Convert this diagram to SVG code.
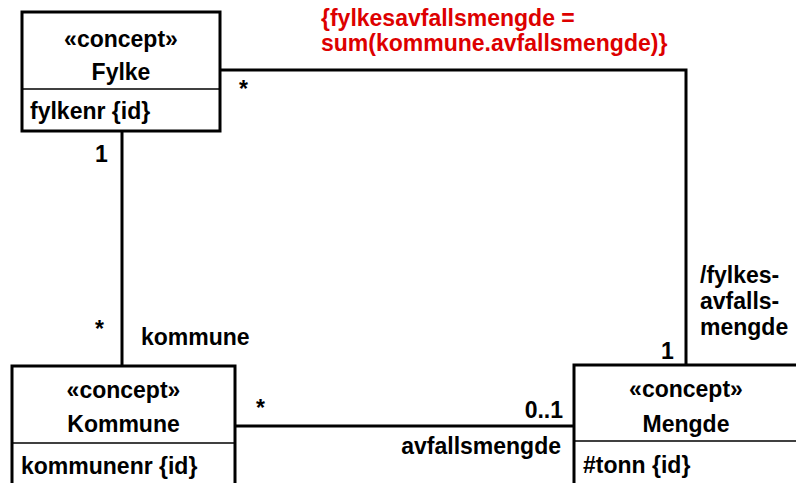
<svg xmlns="http://www.w3.org/2000/svg" width="796" height="483" viewBox="0 0 796 483">
  <style>
    .box { fill: #ffffff; stroke: #000000; stroke-width: 3; }
    .div { stroke: #000000; stroke-width: 1.5; }
    .conn { fill: none; stroke: #000000; stroke-width: 3; }
    text { font-family: "Liberation Sans", Arial, sans-serif; font-weight: bold; font-size: 23px; fill: #000000; }
    .c { text-anchor: middle; }
    .r { text-anchor: end; }
    .note { fill: #dd0000; }
  </style>
  <rect width="796" height="483" fill="#ffffff"/>

  <!-- associations -->
  <g id="connectors">
    <polyline class="conn" points="220,70 686,70 686,366"/>
    <line class="conn" x1="122" y1="131" x2="122" y2="366"/>
    <line class="conn" x1="235" y1="426" x2="574" y2="426"/>
  </g>

  <g id="Fylke">
    <rect class="box" x="22" y="12" width="198" height="119"/>
    <line class="div" x1="22" y1="89" x2="220" y2="89"/>
    <text class="c" x="121" y="47">«concept»</text>
    <text class="c" x="121" y="80">Fylke</text>
    <text x="30" y="119">fylkenr {id}</text>
  </g>

  <g id="Kommune">
    <rect class="box" x="12" y="366" width="223" height="130"/>
    <line class="div" x1="12" y1="443" x2="235" y2="443"/>
    <text class="c" x="123.5" y="398">«concept»</text>
    <text class="c" x="123.5" y="432">Kommune</text>
    <text x="21" y="474">kommunenr {id}</text>
  </g>

  <g id="Mengde">
    <rect class="box" x="574" y="365" width="230" height="130"/>
    <line class="div" x1="574" y1="441" x2="804" y2="441"/>
    <text class="c" x="686" y="397">«concept»</text>
    <text class="c" x="686" y="432">Mengde</text>
    <text x="583" y="473">#tonn {id}</text>
  </g>

  <g id="labels">
    <text x="239" y="97">*</text>
    <text x="95" y="162">1</text>
    <text x="95" y="337">*</text>
    <text x="141" y="345">kommune</text>
    <text x="700" y="283">/fylkes-</text>
    <text x="700" y="309">avfalls-</text>
    <text x="700" y="335">mengde</text>
    <text x="661" y="359">1</text>
    <text x="256" y="416">*</text>
    <text class="r" x="563" y="418">0..1</text>
    <text class="r" x="561" y="454">avfallsmengde</text>
  </g>

  <g id="constraint">
    <text class="note" x="321" y="26">{fylkesavfallsmengde =</text>
    <text class="note" x="321" y="51">sum(kommune.avfallsmengde)}</text>
  </g>
</svg>
